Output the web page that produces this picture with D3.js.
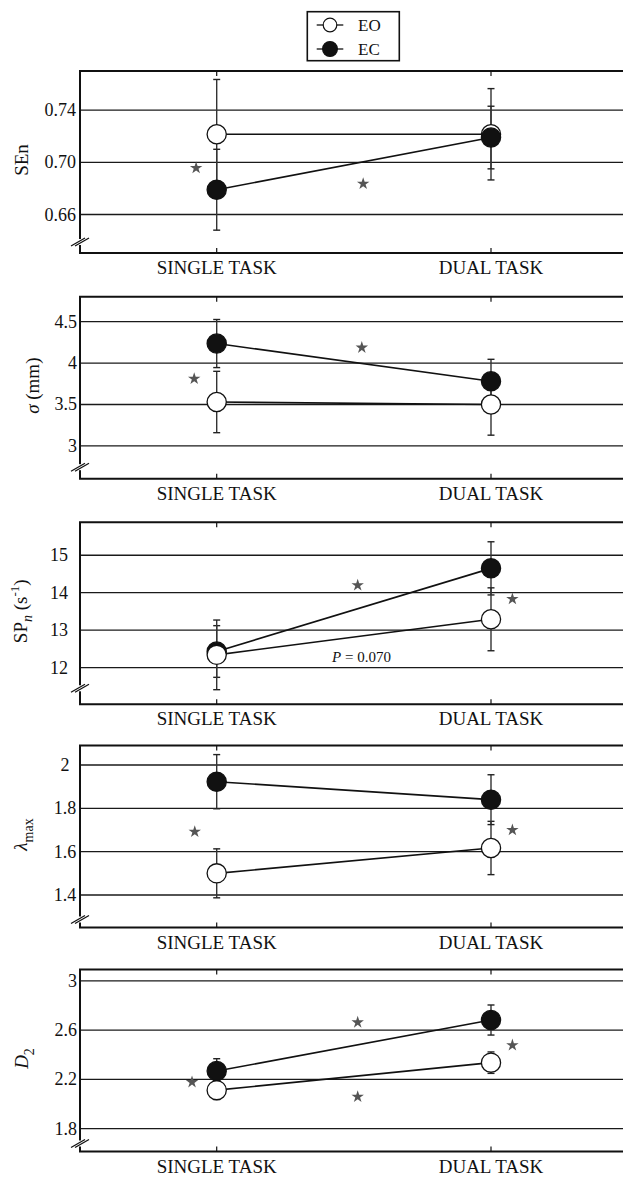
<!DOCTYPE html>
<html lang="en">
<head>
<meta charset="utf-8">
<title>EO / EC single vs dual task</title>
<script src="https://cdn.jsdelivr.net/npm/d3@7"></script>
<style>
  body { margin: 0; background: #fff; }
  text { font-family: "Liberation Serif", "DejaVu Serif", serif; fill: #111; }
</style>
</head>
<body>
<script>
// data
var categories = ["SINGLE TASK", "DUAL TASK"];
var series = ["EO", "EC"];

// SEn
var senEO = [0.7215, 0.7215], senEOerr = [0.042, 0.035];
var senEC = [0.679, 0.719],   senECerr = [0.031, 0.024];
var senTicks = [0.66, 0.70, 0.74], senTickLabels = ["0.66", "0.70", "0.74"];
var senStars = [[-0.075, 0.6957], [0.534, 0.6836]];

// sigma (mm)
var sigEO = [3.53, 3.50],  sigEOerr = [0.37, 0.37];
var sigEC = [4.235, 3.78], sigECerr = [0.29, 0.265];
var sigTicks = [3, 3.5, 4, 4.5], sigTickLabels = ["3", "3.5", "4", "4.5"];
var sigStars = [[-0.082, 3.81], [0.529, 4.186]];

// SPn (s-1)
var spEO = [12.34, 13.29], spEOerr = [0.93, 0.84];
var spEC = [12.43, 14.65], spECerr = [0.69, 0.71];
var spTicks = [12, 13, 14, 15], spTickLabels = ["12", "13", "14", "15"];
var spStars = [[0.514, 14.2], [1.078, 13.83]];

// lambda max
var lamEO = [1.50, 1.617],  lamEOerr = [0.113, 0.123];
var lamEC = [1.923, 1.84],  lamECerr = [0.125, 0.115];
var lamTicks = [1.4, 1.6, 1.8, 2], lamTickLabels = ["1.4", "1.6", "1.8", "2"];
var lamStars = [[-0.080, 1.692], [1.078, 1.70]];

// D2
var d2EO = [2.113, 2.336], d2EOerr = [0.076, 0.087];
var d2EC = [2.268, 2.682], d2ECerr = [0.10, 0.122];
var d2Ticks = [1.8, 2.2, 2.6, 3], d2TickLabels = ["1.8", "2.2", "2.6", "3"];
var d2Stars = [[-0.09, 2.178], [0.514, 2.663], [0.514, 2.059], [1.078, 2.478]];

var w = 623, h = 1177;
var svg = d3.select("body").append("svg")
    .attr("width", w)
    .attr("height", h);

var left = 80, right = 626, ph = 182;
var x = d3.scaleLinear().domain([0, 1]).range([216.7, 491]);

var panels = [
  { top: 71,    domain: [0.6305, 0.770], eo: senEO, eoErr: senEOerr, ec: senEC, ecErr: senECerr,
    ticks: senTicks, tickLabels: senTickLabels, stars: senStars, label: "sen",
    labelX: 28, tickX: 76, anchor: "end", brk: 11, ecOnTop: true },
  { top: 296.7, domain: [2.605, 4.80], eo: sigEO, eoErr: sigEOerr, ec: sigEC, ecErr: sigECerr,
    ticks: sigTicks, tickLabels: sigTickLabels, stars: sigStars, label: "sig",
    labelX: 39, tickX: 77, anchor: "end", brk: 11.5, ecOnTop: true },
  { top: 522.3, domain: [11.02, 15.88], eo: spEO, eoErr: spEOerr, ec: spEC, ecErr: spECerr,
    ticks: spTicks, tickLabels: spTickLabels, stars: spStars, label: "sp",
    labelX: 27, tickX: 68, anchor: "end", brk: 16, ecOnTop: false },
  { top: 745.5, domain: [1.25, 2.09], eo: lamEO, eoErr: lamEOerr, ec: lamEC, ecErr: lamECerr,
    ticks: lamTicks, tickLabels: lamTickLabels, stars: lamStars, label: "lam",
    labelX: 27, tickX: 65, anchor: "middle", brk: 8, ecOnTop: true },
  { top: 969.5, domain: [1.615, 3.092], eo: d2EO, eoErr: d2EOerr, ec: d2EC, ecErr: d2ECerr,
    ticks: d2Ticks, tickLabels: d2TickLabels, stars: d2Stars, label: "d2",
    labelX: 28, tickX: 77, anchor: "end", brk: 8, ecOnTop: true }
];

function yLabel(g, key) {
  var t = g.append("text").attr("text-anchor", "middle").style("font-size", "19px");
  if (key == "sen") {
    t.text("SEn");
  } else if (key == "sig") {
    t.append("tspan").style("font-style", "italic").text("\u03c3");
    t.append("tspan").text(" (mm)");
  } else if (key == "sp") {
    t.append("tspan").text("SP");
    t.append("tspan").style("font-style", "italic").style("font-size", "14px").attr("dy", 5).text("n");
    t.append("tspan").attr("dy", -5).text(" (s");
    t.append("tspan").style("font-size", "13px").attr("dy", -8).text("-1");
    t.append("tspan").attr("dy", 8).text(")");
  } else if (key == "lam") {
    t.append("tspan").style("font-style", "italic").text("\u03bb");
    t.append("tspan").style("font-size", "14px").attr("dy", 6).text("max");
  } else {
    t.append("tspan").style("font-style", "italic").text("D");
    t.append("tspan").style("font-size", "14px").attr("dy", 6).text("2");
  }
  return t;
}

var star = d3.symbol().type(d3.symbolStar).size(48);

panels.forEach(function (p) {
  var y = d3.scaleLinear().domain(p.domain).range([p.top + ph, p.top]);
  var g = svg.append("g");
  var bottom = p.top + ph;

  // gridlines
  g.selectAll(".grid").data(p.ticks).enter().append("line")
      .attr("x1", left).attr("x2", right)
      .attr("y1", function (d) { return y(d); })
      .attr("y2", function (d) { return y(d); })
      .attr("stroke", "#1a1a1a").attr("stroke-width", 1.3);

  // tick labels
  g.selectAll(".tl").data(p.ticks).enter().append("text")
      .attr("x", p.tickX)
      .attr("y", function (d) { return y(d) + 6; })
      .attr("text-anchor", p.anchor)
      .style("font-size", "18px")
      .text(function (d, i) { return p.tickLabels[i]; });

  // frame (left, top, bottom)
  g.append("path")
      .attr("d", "M" + right + "," + p.top + "H" + left + "V" + bottom + "H" + right)
      .attr("fill", "none").attr("stroke", "#111").attr("stroke-width", 2);

  // axis break
  var by = bottom - p.brk;
  g.append("rect").attr("x", left - 2).attr("y", by - 3).attr("width", 4).attr("height", 6).attr("fill", "#fff");
  [-2, 2].forEach(function (o) {
    g.append("line")
        .attr("x1", left - 7 + o).attr("y1", by + 4)
        .attr("x2", left + 7 + o).attr("y2", by - 4)
        .attr("stroke", "#111").attr("stroke-width", 1.3);
  });

  // category ticks + labels
  categories.forEach(function (c, i) {
    g.append("line").attr("x1", x(i)).attr("x2", x(i)).attr("y1", p.top).attr("y2", p.top + 5)
        .attr("stroke", "#111").attr("stroke-width", 1.2);
    g.append("line").attr("x1", x(i)).attr("x2", x(i)).attr("y1", bottom - 5).attr("y2", bottom)
        .attr("stroke", "#111").attr("stroke-width", 1.2);
    g.append("text").attr("x", x(i)).attr("y", bottom + 21)
        .attr("text-anchor", "middle").style("font-size", "19px").text(c);
  });

  // y label
  yLabel(g, p.label)
      .attr("transform", "translate(" + p.labelX + "," + (p.top + ph / 2 - 2) + ") rotate(-90)");

  var sets = [
    { m: p.eo, e: p.eoErr, fill: "#fff" },
    { m: p.ec, e: p.ecErr, fill: "#111" }
  ];
  if (!p.ecOnTop) sets.reverse();

  // error bars
  sets.forEach(function (s) {
    s.m.forEach(function (v, i) {
      var lo = y(v - s.e[i]), hi = y(v + s.e[i]);
      g.append("line").attr("x1", x(i)).attr("x2", x(i)).attr("y1", lo).attr("y2", hi)
          .attr("stroke", "#333").attr("stroke-width", 1.4);
      [lo, hi].forEach(function (yy) {
        g.append("line").attr("x1", x(i) - 3.5).attr("x2", x(i) + 3.5).attr("y1", yy).attr("y2", yy)
            .attr("stroke", "#222").attr("stroke-width", 1.4);
      });
    });
  });

  // connecting lines
  var line = d3.line().x(function (d, i) { return x(i); }).y(function (d) { return y(d); });
  sets.forEach(function (s) {
    g.append("path").attr("d", line(s.m)).attr("fill", "none")
        .attr("stroke", "#111").attr("stroke-width", 1.6);
  });

  // markers
  sets.forEach(function (s) {
    g.selectAll(null).data(s.m).enter().append("circle")
        .attr("cx", function (d, i) { return x(i); })
        .attr("cy", function (d) { return y(d); })
        .attr("r", 9.6)
        .attr("fill", s.fill).attr("stroke", "#111").attr("stroke-width", 1.3);
  });

  // significance stars
  g.selectAll(".star").data(p.stars).enter().append("path")
      .attr("d", star)
      .attr("transform", function (d) { return "translate(" + x(d[0]) + "," + y(d[1]) + ")"; })
      .attr("fill", "#555");

  if (p.label == "sp") {
    var t = g.append("text").attr("x", x(0.528)).attr("y", y(12.15))
        .attr("text-anchor", "middle").style("font-size", "15px");
    t.append("tspan").style("font-style", "italic").text("P");
    t.append("tspan").text(" = 0.070");
  }
});

// legend
var lg = svg.append("g");
lg.append("rect").attr("x", 307.3).attr("y", 11.7).attr("width", 92).attr("height", 49)
    .attr("fill", "#fff").attr("stroke", "#111").attr("stroke-width", 1.6);
series.forEach(function (s, i) {
  var yy = 25 + i * 24;
  lg.append("line").attr("x1", 316.7).attr("x2", 343.3).attr("y1", yy).attr("y2", yy)
      .attr("stroke", "#111").attr("stroke-width", 1.3);
  lg.append("circle").attr("cx", 330).attr("cy", yy).attr("r", i == 0 ? 6.8 : 7.4)
      .attr("fill", i == 0 ? "#fff" : "#111").attr("stroke", "#111").attr("stroke-width", 1.2);
  lg.append("text").attr("x", 358).attr("y", yy + 5.5).style("font-size", "17px").text(s);
});
</script>
</body>
</html>
